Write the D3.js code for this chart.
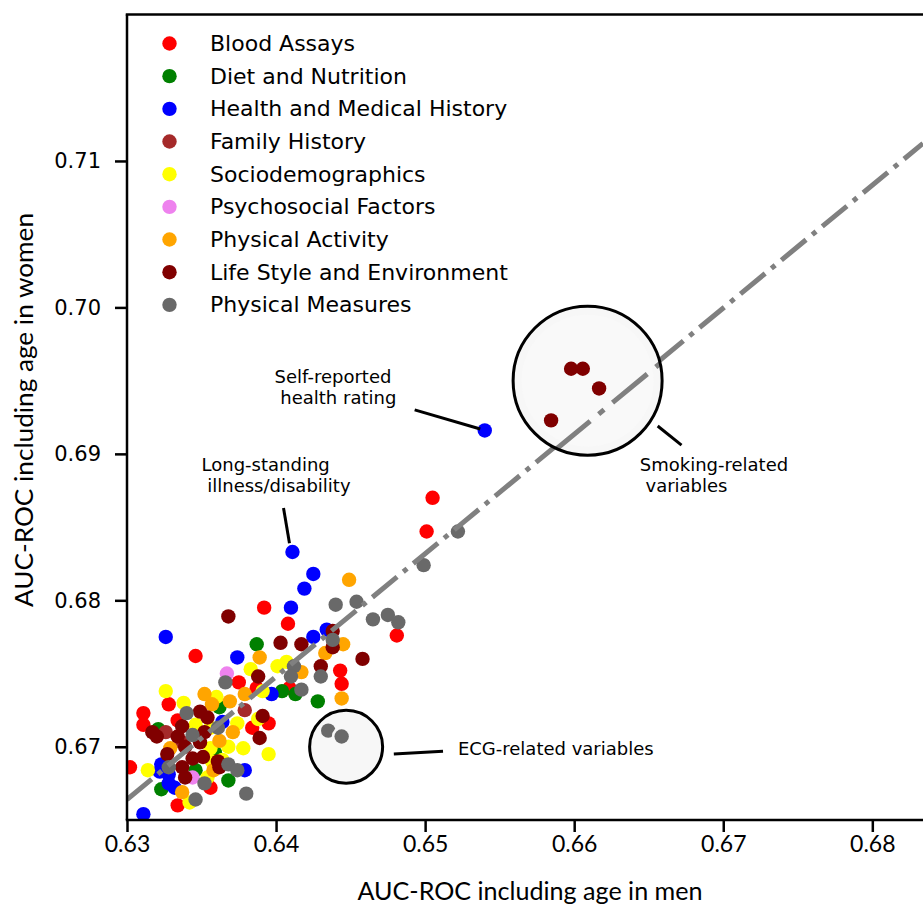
<!DOCTYPE html>
<html>
<head>
<meta charset="utf-8">
<script src="https://cdn.jsdelivr.net/npm/d3@7"></script>
<style>
  body { margin: 0; background: #fff; }
</style>
</head>
<body>
<svg id="chart" width="923" height="908"></svg>
<script>
var categories = ["Blood Assays", "Diet and Nutrition", "Health and Medical History", "Family History",
                  "Sociodemographics", "Psychosocial Factors", "Physical Activity",
                  "Life Style and Environment", "Physical Measures"]
var palette = ["#ff0000", "#008000", "#0000ff", "#a52a2a", "#ffff00", "#ee82ee", "#ffa500", "#800000", "#696969"]

// [AUC men, AUC women]
var bloodAssays = [[0.6505,0.6870],[0.6501,0.6847],[0.6481,0.6776],[0.6408,0.6784],[0.6392,0.6795],[0.6346,0.6762],
    [0.6302,0.6686],[0.6311,0.6723],[0.6311,0.6715],[0.6328,0.6729],[0.6334,0.6718],[0.6375,0.6744],[0.6443,0.6752],
    [0.6444,0.6743],[0.6387,0.6740],[0.6409,0.6740],[0.6395,0.6716],[0.6384,0.6713],[0.6356,0.6672],[0.6334,0.6660]]
var dietNutrition = [[0.6387,0.6770],[0.6404,0.6738],[0.6413,0.6736],[0.6428,0.6731],[0.6321,0.6712],[0.6323,0.6671],
    [0.6368,0.6677],[0.6362,0.6727],[0.6346,0.6684],[0.6359,0.6696]]
var healthHistory = [[0.6540,0.6916],[0.6411,0.6833],[0.6425,0.6818],[0.6419,0.6808],[0.6410,0.6795],[0.6434,0.6780],
    [0.6425,0.6775],[0.6326,0.6775],[0.6374,0.6761],[0.6397,0.6736],[0.6364,0.6717],[0.6323,0.6688],[0.6328,0.6675],
    [0.6328,0.6681],[0.6379,0.6684],[0.6311,0.6654],[0.6322,0.6683],[0.6332,0.6672]]
var familyHistory = [[0.6326,0.6710],[0.6379,0.6725],[0.6337,0.6703]]
var sociodemographics = [[0.6326,0.6738],[0.6338,0.6730],[0.6360,0.6734],[0.6383,0.6753],[0.6391,0.6738],[0.6401,0.6755],
    [0.6407,0.6758],[0.6346,0.6715],[0.6356,0.6713],[0.6388,0.6719],[0.6374,0.6716],[0.6368,0.6700],[0.6378,0.6699],
    [0.6395,0.6695],[0.6314,0.6684],[0.6342,0.6662],[0.6356,0.6699],[0.6354,0.6679],[0.6364,0.6691],[0.6357,0.6690]]
var psychosocial = [[0.6367,0.6750],[0.6344,0.6679]]
var physicalActivity = [[0.6449,0.6814],[0.6389,0.6761],[0.6445,0.6770],[0.6433,0.6764],[0.6417,0.6751],[0.6444,0.6733],
    [0.6352,0.6736],[0.6357,0.6729],[0.6379,0.6736],[0.6369,0.6731],[0.6371,0.6710],[0.6362,0.6704],[0.6329,0.6699],
    [0.6337,0.6669],[0.6358,0.6684]]
var lifeStyle = [[0.6368,0.6789],[0.6403,0.6771],[0.6417,0.6770],[0.6438,0.6779],[0.6438,0.6768],[0.6458,0.6760],
    [0.6430,0.6755],[0.6388,0.6748],[0.6391,0.6721],[0.6349,0.6724],[0.6354,0.6720],[0.6337,0.6714],[0.6317,0.6710],
    [0.6320,0.6707],[0.6334,0.6707],[0.6352,0.6710],[0.6389,0.6706],[0.6327,0.6695],[0.6344,0.6692],[0.6351,0.6693],
    [0.6339,0.6679],[0.6361,0.6690],[0.6362,0.6686],[0.6339,0.6700],[0.6349,0.6703],[0.6337,0.6686]]
var physicalMeasures = [[0.6522,0.6847],[0.6499,0.6824],[0.6440,0.6797],[0.6454,0.6799],[0.6465,0.6787],[0.6475,0.6790],
    [0.6482,0.6785],[0.6438,0.6773],[0.6412,0.6755],[0.6410,0.6748],[0.6430,0.6748],[0.6417,0.6739],[0.6366,0.6744],
    [0.6340,0.6723],[0.6344,0.6708],[0.6361,0.6713],[0.6328,0.6686],[0.6368,0.6688],[0.6374,0.6684],[0.6352,0.6675],
    [0.6346,0.6664],[0.6380,0.6668]]

var seriesPoints = [bloodAssays, dietNutrition, healthHistory, familyHistory, sociodemographics,
                    psychosocial, physicalActivity, lifeStyle, physicalMeasures]

var xTicks = [0.63, 0.64, 0.65, 0.66, 0.67, 0.68]
var yTicks = [0.67, 0.68, 0.69, 0.70, 0.71]

// fitted trend line end points
var fitX = [0.63, 0.6834]
var fitY = [0.6664, 0.7112]

// zoomed lenses
var smokingCenter = [0.6609, 0.6950]
var smokingFocus = [0.6609, 0.6944]
var smokingPoints = [[0.65915,0.69246],[0.66011,0.69498],[0.66067,0.69498],[0.66145,0.69402]]
var ecgCenter = [0.6447, 0.6700]
var ecgPoints = [[0.6435,0.6711],[0.6444,0.6707]]

var annotations = [
    {lines: ["Self-reported", " health rating"], text: [0.6399, 0.6953], from: [0.6493, 0.6930], to: [0.6537, 0.6917]},
    {lines: ["Long-standing", " illness/disability"], text: [0.6350, 0.6893], from: [0.6405, 0.6863], to: [0.6409, 0.6839]},
    {lines: ["Smoking-related", " variables"], text: [0.6644, 0.6893], from: [0.6656, 0.6919], to: [0.6672, 0.6906]},
    {lines: ["ECG-related variables"], text: [0.6522, 0.6699], from: [0.6479, 0.6695], to: [0.6512, 0.6697]}
]

var dimensions = {
    width: 923,
    height: 908,
    margin: { top: 14.5, bottom: 88, left: 127, right: 0 }
}

var svg = d3.select("#chart")

var x = d3.scaleLinear()
    .domain([0.63, 0.6834])
    .range([dimensions.margin.left, dimensions.width - dimensions.margin.right])
var y = d3.scaleLinear()
    .domain([0.665, 0.72])
    .range([dimensions.height - dimensions.margin.bottom, dimensions.margin.top])

var defs = svg.append("defs")
defs.append("clipPath").attr("id", "plotclip")
    .append("rect")
    .attr("x", x.range()[0]).attr("y", y.range()[1])
    .attr("width", x.range()[1] - x.range()[0])
    .attr("height", y.range()[0] - y.range()[1])

var plot = svg.append("g").attr("clip-path", "url(#plotclip)")

// scatter, one layer per category
seriesPoints.forEach(function(pts, i) {
    plot.append("g")
        .selectAll("circle")
        .data(pts)
        .enter()
        .append("circle")
        .attr("cx", d => x(d[0]))
        .attr("cy", d => y(d[1]))
        .attr("r", 7.2)
        .attr("fill", palette[i])
})

var fitData = fitX.map((v, i) => [v, fitY[i]])
plot.append("path")
    .datum(fitData)
    .attr("d", d3.line().x(d => x(d[0])).y(d => y(d[1])))
    .attr("fill", "none")
    .attr("stroke", "#808080")
    .attr("stroke-width", 5)
    .attr("stroke-dasharray", "32,8,5,8")

// axes
var xAxis = d3.axisBottom(x).tickValues(xTicks).tickFormat(d3.format(".2f")).tickSize(12).tickPadding(4)
var gx = svg.append("g")
    .attr("transform", "translate(0," + y.range()[0] + ")")
    .call(xAxis)
gx.select(".domain").remove()
gx.selectAll("line").attr("stroke-width", 2.5)
gx.selectAll("text").style("font-family", "Lato").style("font-size", "23px").attr("fill", "#000")

var yAxis = d3.axisLeft(y).tickValues(yTicks).tickFormat(d3.format(".2f")).tickSize(12).tickPadding(14)
var gy = svg.append("g")
    .attr("transform", "translate(" + x.range()[0] + ",0)")
    .call(yAxis)
gy.select(".domain").remove()
gy.selectAll("line").attr("stroke-width", 2.5)
gy.selectAll("text").style("font-family", "DejaVu Sans").style("font-size", "21px").attr("fill", "#000")

// spines
svg.append("line")
    .attr("x1", x.range()[0]).attr("x2", x.range()[0])
    .attr("y1", y.range()[1]).attr("y2", y.range()[0])
    .attr("stroke", "#000").attr("stroke-width", 2.5)
svg.append("line")
    .attr("x1", x.range()[0] - 1.25).attr("x2", x.range()[1])
    .attr("y1", y.range()[0]).attr("y2", y.range()[0])
    .attr("stroke", "#000").attr("stroke-width", 2.5)
svg.append("line")
    .attr("x1", x.range()[0] - 1.25).attr("x2", x.range()[1])
    .attr("y1", y.range()[1]).attr("y2", y.range()[1])
    .attr("stroke", "#000").attr("stroke-width", 2.5)

// axis titles
svg.append("text")
    .attr("x", 530).attr("y", 900)
    .attr("text-anchor", "middle")
    .attr("textLength", 345).attr("lengthAdjust", "spacingAndGlyphs")
    .style("font-family", "Lato").style("font-size", "25px")
    .text("AUC-ROC including age in men")
svg.append("text")
    .attr("transform", "translate(33,410) rotate(-90)")
    .attr("text-anchor", "middle")
    .attr("textLength", 394).attr("lengthAdjust", "spacingAndGlyphs")
    .style("font-family", "Lato").style("font-size", "25px")
    .text("AUC-ROC including age in women")

// smoking lens: magnified view
var zoomK = 1.4
var sx = x(smokingCenter[0]), sy = y(smokingCenter[1])
var lensX = v => sx + zoomK * (x(v) - x(smokingFocus[0]))
var lensY = v => sy + zoomK * (y(v) - y(smokingFocus[1]))
defs.append("clipPath").attr("id", "lensclip")
    .append("circle").attr("cx", sx).attr("cy", sy).attr("r", 74)
svg.append("circle")
    .attr("cx", sx).attr("cy", sy).attr("r", 74.5)
    .attr("fill", "#f7f7f7")
var lens = svg.append("g").attr("clip-path", "url(#lensclip)")
lens.append("circle")
    .attr("cx", sx).attr("cy", sy).attr("r", 66)
    .attr("fill", "#f9f9f9")
lens.append("path")
    .datum(fitData)
    .attr("d", d3.line().x(d => lensX(d[0])).y(d => lensY(d[1])))
    .attr("fill", "none")
    .attr("stroke", "#808080")
    .attr("stroke-width", 5)
    .attr("stroke-dasharray", "45,11,7,11")
    .attr("stroke-dashoffset", 20)
lens.selectAll(".smk")
    .data(smokingPoints)
    .enter()
    .append("circle")
    .attr("cx", d => lensX(d[0]))
    .attr("cy", d => lensY(d[1]))
    .attr("r", 7.2)
    .attr("fill", palette[7])
svg.append("circle")
    .attr("cx", sx).attr("cy", sy).attr("r", 74.5)
    .attr("fill", "none").attr("stroke", "#000").attr("stroke-width", 3)

// ECG lens
var ex = x(ecgCenter[0]), ey = y(ecgCenter[1])
svg.append("circle")
    .attr("cx", ex).attr("cy", ey).attr("r", 36.5)
    .attr("fill", "#f7f7f7")
svg.append("circle")
    .attr("cx", x(ecgPoints[0][0])).attr("cy", y(ecgPoints[0][1])).attr("r", 7.2)
    .attr("fill", palette[8])
svg.append("circle")
    .attr("cx", x(ecgPoints[1][0])).attr("cy", y(ecgPoints[1][1])).attr("r", 9.8)
    .attr("fill", "#f7f7f7")
svg.append("circle")
    .attr("cx", x(ecgPoints[1][0])).attr("cy", y(ecgPoints[1][1])).attr("r", 7.2)
    .attr("fill", palette[8])
svg.append("circle")
    .attr("cx", ex).attr("cy", ey).attr("r", 36.5)
    .attr("fill", "none").attr("stroke", "#000").attr("stroke-width", 3)

// annotations
annotations.forEach(function(a) {
    svg.append("line")
        .attr("x1", x(a.from[0])).attr("y1", y(a.from[1]))
        .attr("x2", x(a.to[0])).attr("y2", y(a.to[1]))
        .attr("stroke", "#000").attr("stroke-width", 3)
    a.lines.forEach(function(t, j) {
        svg.append("text")
            .attr("x", x(a.text[0]))
            .attr("y", y(a.text[1]) + j * 21.6)
            .attr("dominant-baseline", "central")
            .style("white-space", "pre")
            .style("font-family", "DejaVu Sans").style("font-size", "18px")
            .text(t)
    })
})

// legend
var legend = svg.append("g")
categories.forEach(function(c, i) {
    legend.append("circle")
        .attr("cx", 169.5).attr("cy", 43.5 + i * 32.67).attr("r", 7.2)
        .attr("fill", palette[i])
    legend.append("text")
        .attr("x", 210).attr("y", 43.5 + i * 32.67)
        .attr("dominant-baseline", "central")
        .style("font-family", "DejaVu Sans").style("font-size", "22px")
        .text(c)
})
</script>
</body>
</html>
